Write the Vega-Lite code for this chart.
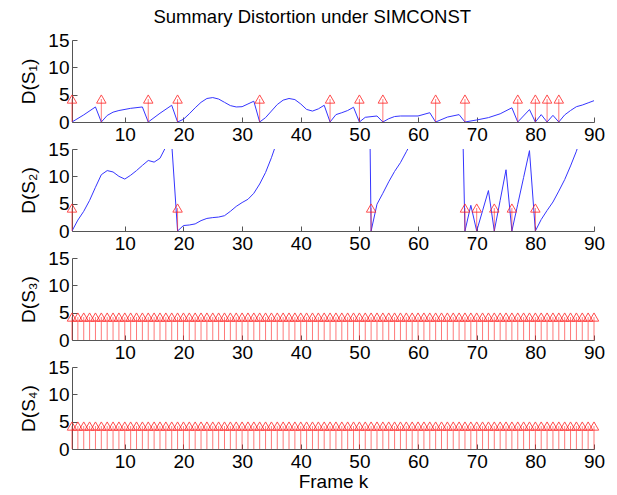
{
  "$schema": "https://vega.github.io/schema/vega-lite/v6.json",
  "background": "white",
  "padding": {"left": 19, "top": 7, "right": 5, "bottom": 2},
  "title": {"text": "Summary Distortion under SIMCONST", "font": "Liberation Sans", "fontSize": 18.5, "fontWeight": "normal", "color": "#000", "anchor": "middle", "offset": 5},
  "bounds": "flush",
  "spacing": 27,
  "config": {
    "view": {"stroke": null},
    "axis": {"domainColor": "#555", "tickColor": "#555", "labelColor": "#000", "labelFont": "Liberation Sans", "labelFontSize": 19, "titleFont": "Liberation Sans", "titleFontSize": 19, "titleFontWeight": "normal", "titleColor": "#000", "grid": false, "tickSize": -5, "labelPadding": 8, "labelOverlap": false, "labelFlush": false},
    "axisY": {"titlePadding": 9}
  },
  "datasets": {
    "lines": [
      {"p": 1, "k": 1, "v": 0}, {"p": 1, "k": 3, "v": 1.3}, {"p": 1, "k": 5, "v": 2.75}, {"p": 1, "k": 6, "v": 0},
      {"p": 1, "k": 7, "v": 1.2}, {"p": 1, "k": 8, "v": 1.8}, {"p": 1, "k": 9, "v": 2.1}, {"p": 1, "k": 11, "v": 2.5},
      {"p": 1, "k": 13, "v": 2.75}, {"p": 1, "k": 14, "v": 0}, {"p": 1, "k": 16, "v": 1.6}, {"p": 1, "k": 18, "v": 3.06},
      {"p": 1, "k": 19, "v": 0}, {"p": 1, "k": 20, "v": 0.5}, {"p": 1, "k": 21, "v": 1.5}, {"p": 1, "k": 22, "v": 2.6},
      {"p": 1, "k": 23, "v": 3.6}, {"p": 1, "k": 24, "v": 4.3}, {"p": 1, "k": 25, "v": 4.47}, {"p": 1, "k": 26, "v": 4.2},
      {"p": 1, "k": 27, "v": 3.6}, {"p": 1, "k": 28, "v": 3.0}, {"p": 1, "k": 29, "v": 2.75}, {"p": 1, "k": 30, "v": 2.8},
      {"p": 1, "k": 31, "v": 3.3}, {"p": 1, "k": 32, "v": 3.8}, {"p": 1, "k": 33, "v": 0}, {"p": 1, "k": 34, "v": 0.8},
      {"p": 1, "k": 35, "v": 2.0}, {"p": 1, "k": 36, "v": 3.2}, {"p": 1, "k": 37, "v": 4.0}, {"p": 1, "k": 38, "v": 4.3},
      {"p": 1, "k": 39, "v": 4.1}, {"p": 1, "k": 40, "v": 3.3}, {"p": 1, "k": 41, "v": 2.3}, {"p": 1, "k": 42, "v": 2.0},
      {"p": 1, "k": 43, "v": 2.4}, {"p": 1, "k": 44, "v": 3.06}, {"p": 1, "k": 45, "v": 0}, {"p": 1, "k": 46, "v": 1.35},
      {"p": 1, "k": 47, "v": 1.7}, {"p": 1, "k": 48, "v": 2.1}, {"p": 1, "k": 49, "v": 2.7}, {"p": 1, "k": 50, "v": 0},
      {"p": 1, "k": 51, "v": 0.86}, {"p": 1, "k": 53, "v": 1.1}, {"p": 1, "k": 54, "v": 0}, {"p": 1, "k": 55, "v": 0.6},
      {"p": 1, "k": 56, "v": 1.0}, {"p": 1, "k": 57, "v": 1.1}, {"p": 1, "k": 60, "v": 1.1}, {"p": 1, "k": 62, "v": 1.7},
      {"p": 1, "k": 63, "v": 0}, {"p": 1, "k": 65, "v": 0.9}, {"p": 1, "k": 67, "v": 1.35}, {"p": 1, "k": 68, "v": 0},
      {"p": 1, "k": 70, "v": 0.37}, {"p": 1, "k": 72, "v": 0.8}, {"p": 1, "k": 74, "v": 1.5}, {"p": 1, "k": 76, "v": 2.6},
      {"p": 1, "k": 77, "v": 0}, {"p": 1, "k": 79, "v": 2.27}, {"p": 1, "k": 80, "v": 0}, {"p": 1, "k": 81, "v": 1.35},
      {"p": 1, "k": 82, "v": 0}, {"p": 1, "k": 83, "v": 1.22}, {"p": 1, "k": 84, "v": 0}, {"p": 1, "k": 85, "v": 1.3},
      {"p": 1, "k": 86, "v": 2.1}, {"p": 1, "k": 87, "v": 2.8}, {"p": 1, "k": 88, "v": 3.1}, {"p": 1, "k": 89, "v": 3.5},
      {"p": 1, "k": 90, "v": 3.9},
      {"p": 2, "k": 1, "v": 0}, {"p": 2, "k": 2, "v": 2.0}, {"p": 2, "k": 3, "v": 3.6}, {"p": 2, "k": 4, "v": 5.6},
      {"p": 2, "k": 5, "v": 8.0}, {"p": 2, "k": 6, "v": 10.3}, {"p": 2, "k": 7, "v": 11.05}, {"p": 2, "k": 8, "v": 10.8},
      {"p": 2, "k": 9, "v": 10.0}, {"p": 2, "k": 10, "v": 9.5}, {"p": 2, "k": 11, "v": 10.2}, {"p": 2, "k": 12, "v": 11.05},
      {"p": 2, "k": 13, "v": 12.0}, {"p": 2, "k": 14, "v": 12.9}, {"p": 2, "k": 15, "v": 12.6}, {"p": 2, "k": 16, "v": 13.3},
      {"p": 2, "k": 17, "v": 15.4}, {"p": 2, "k": 18, "v": 16}, {"p": 2, "k": 19, "v": 0}, {"p": 2, "k": 20, "v": 1.0},
      {"p": 2, "k": 21, "v": 1.1}, {"p": 2, "k": 22, "v": 1.3}, {"p": 2, "k": 23, "v": 1.9}, {"p": 2, "k": 24, "v": 2.3},
      {"p": 2, "k": 25, "v": 2.45}, {"p": 2, "k": 26, "v": 2.55}, {"p": 2, "k": 27, "v": 2.8}, {"p": 2, "k": 28, "v": 3.6},
      {"p": 2, "k": 29, "v": 4.5}, {"p": 2, "k": 30, "v": 5.2}, {"p": 2, "k": 31, "v": 5.8}, {"p": 2, "k": 32, "v": 6.9},
      {"p": 2, "k": 33, "v": 8.6}, {"p": 2, "k": 34, "v": 10.7}, {"p": 2, "k": 35, "v": 13.4}, {"p": 2, "k": 36, "v": 16.5},
      {"p": 2, "k": 37, "v": 19}, {"p": 2, "k": 38, "v": 22}, {"p": 2, "k": 39, "v": 25}, {"p": 2, "k": 40, "v": 28},
      {"p": 2, "k": 41, "v": 31}, {"p": 2, "k": 42, "v": 35}, {"p": 2, "k": 43, "v": 39}, {"p": 2, "k": 44, "v": 43},
      {"p": 2, "k": 45, "v": 48}, {"p": 2, "k": 46, "v": 53}, {"p": 2, "k": 47, "v": 58}, {"p": 2, "k": 48, "v": 64},
      {"p": 2, "k": 49, "v": 70}, {"p": 2, "k": 50, "v": 77}, {"p": 2, "k": 51, "v": 90}, {"p": 2, "k": 52, "v": 0},
      {"p": 2, "k": 53, "v": 4.9}, {"p": 2, "k": 54, "v": 6.9}, {"p": 2, "k": 55, "v": 9.0}, {"p": 2, "k": 56, "v": 10.9},
      {"p": 2, "k": 57, "v": 12.5}, {"p": 2, "k": 58, "v": 14.5}, {"p": 2, "k": 59, "v": 16.5}, {"p": 2, "k": 60, "v": 18},
      {"p": 2, "k": 61, "v": 20}, {"p": 2, "k": 62, "v": 23}, {"p": 2, "k": 63, "v": 26}, {"p": 2, "k": 64, "v": 30},
      {"p": 2, "k": 65, "v": 35}, {"p": 2, "k": 66, "v": 42}, {"p": 2, "k": 67, "v": 50}, {"p": 2, "k": 68, "v": 0},
      {"p": 2, "k": 69, "v": 4.7}, {"p": 2, "k": 70, "v": 0}, {"p": 2, "k": 71, "v": 3.7}, {"p": 2, "k": 72, "v": 7.4},
      {"p": 2, "k": 73, "v": 0}, {"p": 2, "k": 74, "v": 5.6}, {"p": 2, "k": 75, "v": 11.2}, {"p": 2, "k": 76, "v": 0},
      {"p": 2, "k": 77, "v": 4.9}, {"p": 2, "k": 78, "v": 9.8}, {"p": 2, "k": 79, "v": 14.7}, {"p": 2, "k": 80, "v": 0},
      {"p": 2, "k": 81, "v": 2.1}, {"p": 2, "k": 82, "v": 3.76}, {"p": 2, "k": 83, "v": 5.3}, {"p": 2, "k": 84, "v": 7.3},
      {"p": 2, "k": 85, "v": 9.4}, {"p": 2, "k": 86, "v": 11.9}, {"p": 2, "k": 87, "v": 14.6}, {"p": 2, "k": 88, "v": 18},
      {"p": 2, "k": 89, "v": 22}, {"p": 2, "k": 90, "v": 26}
    ],
    "stems": [
      {"p": 1, "k": 1, "v": 4.2}, {"p": 1, "k": 6, "v": 4.2}, {"p": 1, "k": 14, "v": 4.2}, {"p": 1, "k": 19, "v": 4.2},
      {"p": 1, "k": 33, "v": 4.2}, {"p": 1, "k": 45, "v": 4.2}, {"p": 1, "k": 50, "v": 4.2}, {"p": 1, "k": 54, "v": 4.2},
      {"p": 1, "k": 63, "v": 4.2}, {"p": 1, "k": 68, "v": 4.2}, {"p": 1, "k": 77, "v": 4.2}, {"p": 1, "k": 80, "v": 4.2},
      {"p": 1, "k": 82, "v": 4.2}, {"p": 1, "k": 84, "v": 4.2},
      {"p": 2, "k": 1, "v": 4.2}, {"p": 2, "k": 19, "v": 4.2}, {"p": 2, "k": 52, "v": 4.2}, {"p": 2, "k": 68, "v": 4.2},
      {"p": 2, "k": 70, "v": 4.2}, {"p": 2, "k": 73, "v": 4.2}, {"p": 2, "k": 76, "v": 4.2}, {"p": 2, "k": 80, "v": 4.2}
    ],
    "all": [
      {"k": 1, "v": 4.2}, {"k": 2, "v": 4.2}, {"k": 3, "v": 4.2}, {"k": 4, "v": 4.2}, {"k": 5, "v": 4.2}, {"k": 6, "v": 4.2},
      {"k": 7, "v": 4.2}, {"k": 8, "v": 4.2}, {"k": 9, "v": 4.2}, {"k": 10, "v": 4.2}, {"k": 11, "v": 4.2}, {"k": 12, "v": 4.2},
      {"k": 13, "v": 4.2}, {"k": 14, "v": 4.2}, {"k": 15, "v": 4.2}, {"k": 16, "v": 4.2}, {"k": 17, "v": 4.2}, {"k": 18, "v": 4.2},
      {"k": 19, "v": 4.2}, {"k": 20, "v": 4.2}, {"k": 21, "v": 4.2}, {"k": 22, "v": 4.2}, {"k": 23, "v": 4.2}, {"k": 24, "v": 4.2},
      {"k": 25, "v": 4.2}, {"k": 26, "v": 4.2}, {"k": 27, "v": 4.2}, {"k": 28, "v": 4.2}, {"k": 29, "v": 4.2}, {"k": 30, "v": 4.2},
      {"k": 31, "v": 4.2}, {"k": 32, "v": 4.2}, {"k": 33, "v": 4.2}, {"k": 34, "v": 4.2}, {"k": 35, "v": 4.2}, {"k": 36, "v": 4.2},
      {"k": 37, "v": 4.2}, {"k": 38, "v": 4.2}, {"k": 39, "v": 4.2}, {"k": 40, "v": 4.2}, {"k": 41, "v": 4.2}, {"k": 42, "v": 4.2},
      {"k": 43, "v": 4.2}, {"k": 44, "v": 4.2}, {"k": 45, "v": 4.2}, {"k": 46, "v": 4.2}, {"k": 47, "v": 4.2}, {"k": 48, "v": 4.2},
      {"k": 49, "v": 4.2}, {"k": 50, "v": 4.2}, {"k": 51, "v": 4.2}, {"k": 52, "v": 4.2}, {"k": 53, "v": 4.2}, {"k": 54, "v": 4.2},
      {"k": 55, "v": 4.2}, {"k": 56, "v": 4.2}, {"k": 57, "v": 4.2}, {"k": 58, "v": 4.2}, {"k": 59, "v": 4.2}, {"k": 60, "v": 4.2},
      {"k": 61, "v": 4.2}, {"k": 62, "v": 4.2}, {"k": 63, "v": 4.2}, {"k": 64, "v": 4.2}, {"k": 65, "v": 4.2}, {"k": 66, "v": 4.2},
      {"k": 67, "v": 4.2}, {"k": 68, "v": 4.2}, {"k": 69, "v": 4.2}, {"k": 70, "v": 4.2}, {"k": 71, "v": 4.2}, {"k": 72, "v": 4.2},
      {"k": 73, "v": 4.2}, {"k": 74, "v": 4.2}, {"k": 75, "v": 4.2}, {"k": 76, "v": 4.2}, {"k": 77, "v": 4.2}, {"k": 78, "v": 4.2},
      {"k": 79, "v": 4.2}, {"k": 80, "v": 4.2}, {"k": 81, "v": 4.2}, {"k": 82, "v": 4.2}, {"k": 83, "v": 4.2}, {"k": 84, "v": 4.2},
      {"k": 85, "v": 4.2}, {"k": 86, "v": 4.2}, {"k": 87, "v": 4.2}, {"k": 88, "v": 4.2}, {"k": 89, "v": 4.2}, {"k": 90, "v": 4.2}
    ]
  },
  "vconcat": [
    {
      "width": 522, "height": 82,
      "encoding": {
        "x": {"field": "k", "type": "quantitative", "scale": {"domain": [1, 90], "nice": false, "zero": false}, "axis": {"values": [10, 20, 30, 40, 50, 60, 70, 80, 90], "title": null}},
        "y": {"field": "v", "type": "quantitative", "scale": {"domain": [0, 15], "nice": false, "zero": false}, "axis": {"values": [0, 5, 10, 15], "tickCount": 4, "labelOverlap": false, "title": "D(S₁)"}}
      },
      "layer": [
        {"data": {"name": "lines"}, "transform": [{"filter": "datum.p == 1"}],
         "mark": {"type": "line", "clip": true, "color": "#3535ff", "strokeWidth": 1}},
        {"data": {"name": "stems"}, "transform": [{"filter": "datum.p == 1"}],
         "mark": {"type": "rule", "color": "#ff2020", "opacity": 0.6, "strokeWidth": 1},
         "encoding": {"y2": {"datum": 0}}},
        {"data": {"name": "stems"}, "transform": [{"filter": "datum.p == 1"}],
         "mark": {"type": "point", "shape": "triangle-up", "filled": false, "color": "#ff2020", "opacity": 0.8, "size": 90, "strokeWidth": 1}}
      ]
    },
    {
      "width": 522, "height": 82,
      "encoding": {
        "x": {"field": "k", "type": "quantitative", "scale": {"domain": [1, 90], "nice": false, "zero": false}, "axis": {"values": [10, 20, 30, 40, 50, 60, 70, 80, 90], "title": null}},
        "y": {"field": "v", "type": "quantitative", "scale": {"domain": [0, 15], "nice": false, "zero": false}, "axis": {"values": [0, 5, 10, 15], "tickCount": 4, "labelOverlap": false, "title": "D(S₂)"}}
      },
      "layer": [
        {"data": {"name": "lines"}, "transform": [{"filter": "datum.p == 2"}],
         "mark": {"type": "line", "clip": true, "color": "#3535ff", "strokeWidth": 1}},
        {"data": {"name": "stems"}, "transform": [{"filter": "datum.p == 2"}],
         "mark": {"type": "rule", "color": "#ff2020", "opacity": 0.6, "strokeWidth": 1},
         "encoding": {"y2": {"datum": 0}}},
        {"data": {"name": "stems"}, "transform": [{"filter": "datum.p == 2"}],
         "mark": {"type": "point", "shape": "triangle-up", "filled": false, "color": "#ff2020", "opacity": 0.8, "size": 90, "strokeWidth": 1}}
      ]
    },
    {
      "width": 522, "height": 82,
      "data": {"name": "all"},
      "encoding": {
        "x": {"field": "k", "type": "quantitative", "scale": {"domain": [1, 90], "nice": false, "zero": false}, "axis": {"values": [10, 20, 30, 40, 50, 60, 70, 80, 90], "title": null}},
        "y": {"field": "v", "type": "quantitative", "scale": {"domain": [0, 15], "nice": false, "zero": false}, "axis": {"values": [0, 5, 10, 15], "tickCount": 4, "labelOverlap": false, "title": "D(S₃)"}}
      },
      "layer": [
        {"mark": {"type": "rule", "color": "#ff2020", "opacity": 0.6, "strokeWidth": 1},
         "encoding": {"y2": {"datum": 0}}},
        {"mark": {"type": "point", "shape": "triangle-up", "filled": false, "color": "#ff2020", "opacity": 0.8, "size": 90, "strokeWidth": 1}}
      ]
    },
    {
      "width": 522, "height": 82,
      "data": {"name": "all"},
      "encoding": {
        "x": {"field": "k", "type": "quantitative", "scale": {"domain": [1, 90], "nice": false, "zero": false}, "axis": {"values": [10, 20, 30, 40, 50, 60, 70, 80, 90], "title": "Frame k", "titlePadding": 1, "titleFontSize": 19}},
        "y": {"field": "v", "type": "quantitative", "scale": {"domain": [0, 15], "nice": false, "zero": false}, "axis": {"values": [0, 5, 10, 15], "tickCount": 4, "labelOverlap": false, "title": "D(S₄)"}}
      },
      "layer": [
        {"mark": {"type": "rule", "color": "#ff2020", "opacity": 0.6, "strokeWidth": 1},
         "encoding": {"y2": {"datum": 0}}},
        {"mark": {"type": "point", "shape": "triangle-up", "filled": false, "color": "#ff2020", "opacity": 0.8, "size": 90, "strokeWidth": 1}}
      ]
    }
  ]
}
